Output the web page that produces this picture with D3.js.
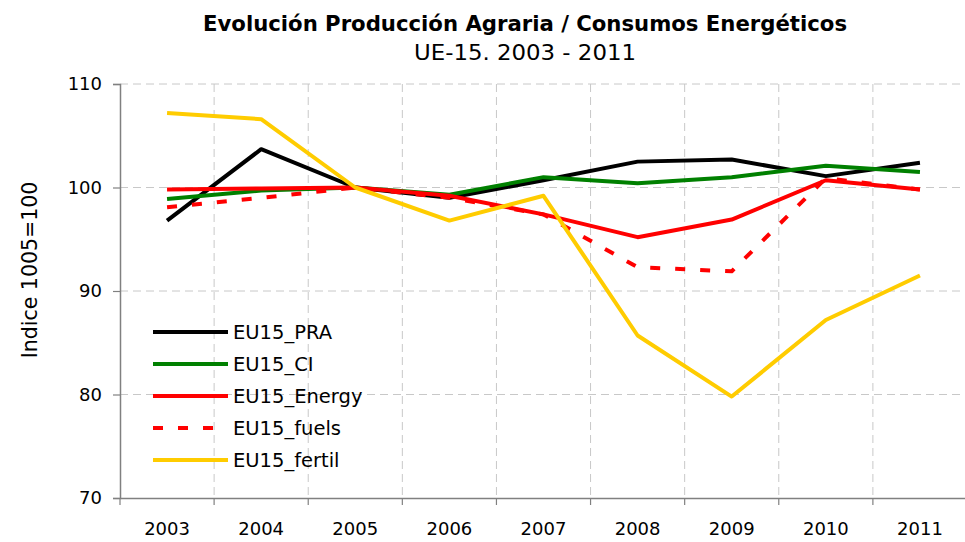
<!DOCTYPE html>
<html>
<head>
<meta charset="utf-8">
<script src="https://cdn.jsdelivr.net/npm/d3@7"></script>
<style>
  html, body { margin: 0; padding: 0; background: #fff; }
  svg { display: block; font-family: "DejaVu Sans", sans-serif; }
</style>
</head>
<body>
<svg id="chart" width="965" height="542"></svg>
<script>
const years = ["2003","2004","2005","2006","2007","2008","2009","2010","2011"];
const yTicks = [70, 80, 90, 100, 110];
const seriesNames = ["EU15_PRA", "EU15_CI", "EU15_Energy", "EU15_fuels", "EU15_fertil"];
const pra    = [96.8, 103.7, 100.0, 99.0, 100.7, 102.5, 102.7, 101.1, 102.4];
const ci     = [98.9, 99.7, 100.0, 99.3, 101.0, 100.4, 101.0, 102.1, 101.5];
const energy = [99.8, 99.9, 100.0, 99.2, 97.4, 95.2, 96.9, 100.7, 99.8];
const fuels  = [98.1, 99.0, 100.0, 99.0, 97.4, 92.3, 91.9, 100.9, 99.8];
const fertil = [107.2, 106.6, 100.0, 96.8, 99.2, 85.7, 79.8, 87.2, 91.5];
const colors = ["#000000", "#008000", "#ff0000", "#ff0000", "#ffcc00"];
const dashes = [null, null, null, "10,15", null];
const title = "Evolución Producción Agraria / Consumos Energéticos";
const subtitle = "UE-15. 2003 - 2011";
const yLabel = "Indice 1005=100";

const allSeries = [pra, ci, energy, fuels, fertil];

const svg = d3.select("#chart");
const pLeft = 120, pRight = 967, pTop = 84, pBottom = 498;

const x = d3.scaleBand().domain(years).range([pLeft, pRight]).padding(0);
const y = d3.scaleLinear().domain([70, 110]).range([pBottom, pTop]);
const cx = d => x(d) + x.bandwidth() / 2;

// horizontal gridlines
svg.append("g").selectAll("line").data(yTicks.filter(t => t > 70)).join("line")
  .attr("x1", pLeft).attr("x2", 965)
  .attr("y1", d => y(d)).attr("y2", d => y(d))
  .attr("stroke", "#c8c8c8").attr("stroke-width", 1).attr("stroke-dasharray", "8,5");

// vertical gridlines at band boundaries
svg.append("g").selectAll("line").data(years.slice(1)).join("line")
  .attr("x1", d => x(d)).attr("x2", d => x(d))
  .attr("y1", pTop).attr("y2", pBottom)
  .attr("stroke", "#c8c8c8").attr("stroke-width", 1).attr("stroke-dasharray", "8,5");

// Y axis
const yAxis = d3.axisLeft(y).tickValues(yTicks).tickSize(7).tickPadding(11).tickFormat(d3.format("d"));
const gy = svg.append("g").attr("transform", `translate(${pLeft},0)`).call(yAxis);
gy.select(".domain").attr("stroke", "#808080").attr("stroke-width", 1.5);
gy.selectAll(".tick line").attr("stroke", "#808080").attr("stroke-width", 1.2);
gy.selectAll(".tick text").attr("font-size", 18).attr("fill", "#000")
  .attr("font-family", "DejaVu Sans, sans-serif");

// X axis
const xAxis = d3.axisBottom(x).tickSize(0).tickPadding(24);
const gx = svg.append("g").attr("transform", `translate(0,${pBottom})`).call(xAxis);
gx.select(".domain").attr("stroke", "#808080").attr("stroke-width", 1.5);
gx.selectAll(".tick text").attr("font-size", 18).attr("fill", "#000")
  .attr("font-family", "DejaVu Sans, sans-serif");
// x tick marks at band boundaries
svg.append("g").selectAll("line").data(years).join("line")
  .attr("x1", d => x(d)).attr("x2", d => x(d))
  .attr("y1", pBottom).attr("y2", pBottom + 7)
  .attr("stroke", "#808080").attr("stroke-width", 1.2);

// lines
const line = d3.line().x((d, i) => cx(years[i])).y(d => y(d));
allSeries.forEach((s, k) => {
  svg.append("path").datum(s)
    .attr("d", line)
    .attr("fill", "none")
    .attr("stroke", colors[k])
    .attr("stroke-width", 4)
    .attr("stroke-linejoin", "round")
    .attr("stroke-dasharray", dashes[k]);
});

// legend
const lg = svg.append("g");
seriesNames.forEach((name, k) => {
  const ly = 332 + k * 32;
  lg.append("line").attr("x1", 153).attr("x2", 228).attr("y1", ly).attr("y2", ly)
    .attr("stroke", colors[k]).attr("stroke-width", 4)
    .attr("stroke-dasharray", dashes[k]);
  lg.append("text").attr("x", 233).attr("y", ly + 7)
    .attr("font-size", 19.5).attr("fill", "#000").text(name);
});

// titles
svg.append("text").attr("x", 525).attr("y", 31).attr("text-anchor", "middle")
  .attr("font-size", 22).attr("font-weight", "bold").attr("fill", "#000")
  .attr("font-family", "DejaVu Sans Condensed, DejaVu Sans, sans-serif")
  .attr("textLength", 644).attr("lengthAdjust", "spacingAndGlyphs")
  .text(title);
svg.append("text").attr("x", 525).attr("y", 60).attr("text-anchor", "middle")
  .attr("font-size", 22).attr("fill", "#000")
  .attr("font-family", "DejaVu Sans Condensed, DejaVu Sans, sans-serif")
  .attr("textLength", 222).attr("lengthAdjust", "spacingAndGlyphs")
  .text(subtitle);

// y label
svg.append("text").attr("transform", "translate(37,270) rotate(-90)")
  .attr("text-anchor", "middle").attr("font-size", 20.5).attr("fill", "#000")
  .text(yLabel);
</script>
</body>
</html>
